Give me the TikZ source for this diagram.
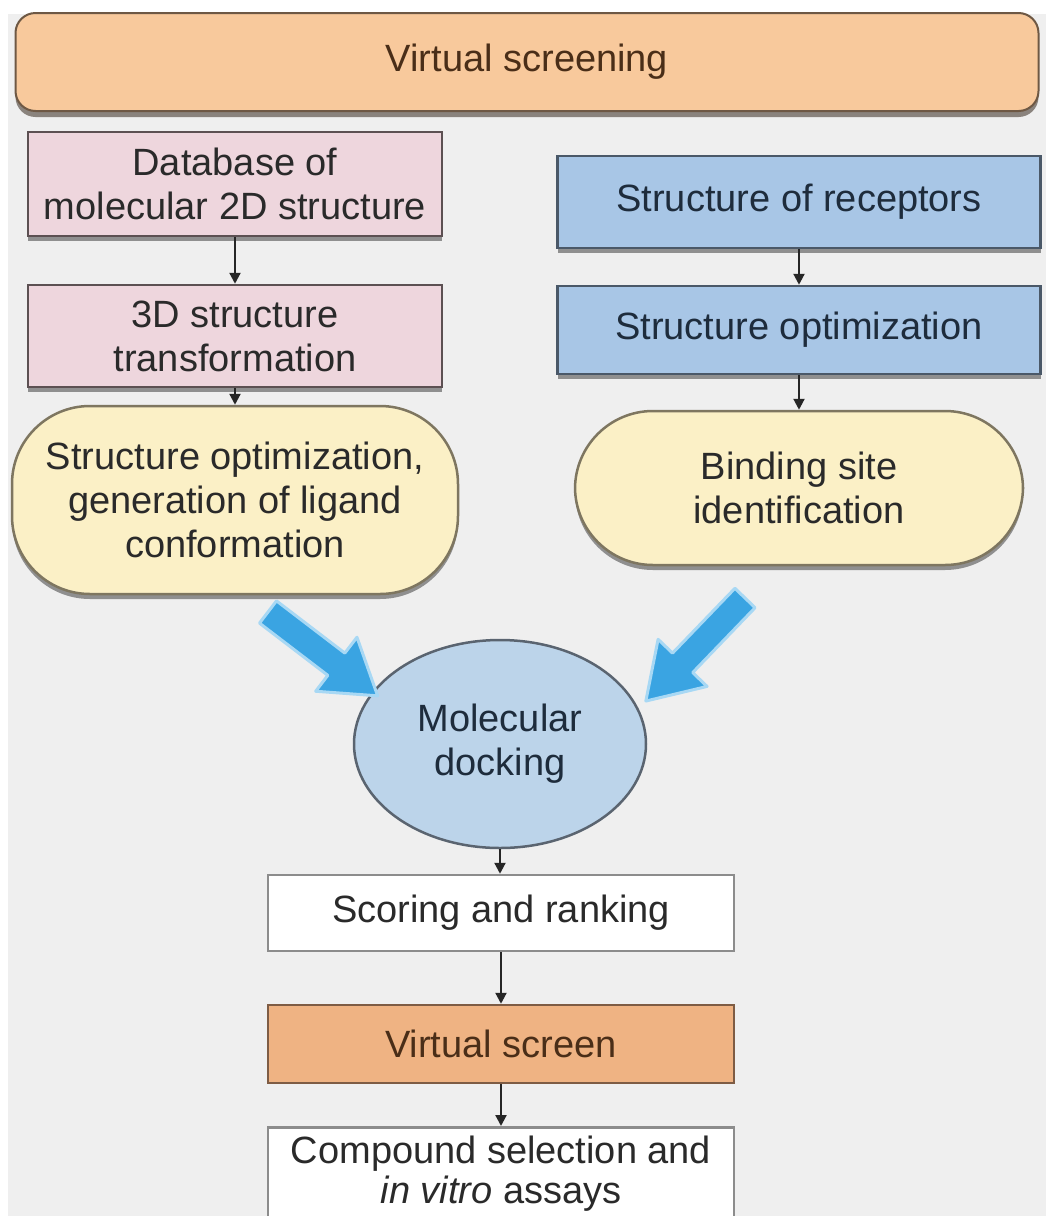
\documentclass[tikz,border=0pt]{standalone}
\usepackage{fontspec}
\setmainfont{Liberation Sans}
\usetikzlibrary{shapes.geometric,shadows,arrows.meta}

\definecolor{pagegray}{HTML}{EFEFEF}
\definecolor{peach}{HTML}{F8C99C}
\definecolor{peachline}{HTML}{6E5844}
\definecolor{pinkfill}{HTML}{EED6DD}
\definecolor{pinkline}{HTML}{5C5052}
\definecolor{bluefill}{HTML}{A8C6E6}
\definecolor{blueline}{HTML}{4A5868}
\definecolor{creamfill}{HTML}{FBF0C6}
\definecolor{creamline}{HTML}{7E7660}
\definecolor{dockfill}{HTML}{BCD4EA}
\definecolor{dockline}{HTML}{5A6470}
\definecolor{orangefill}{HTML}{EFB383}
\definecolor{orangeline}{HTML}{7E5C44}
\definecolor{plainline}{HTML}{8C8C8C}
\definecolor{textdark}{HTML}{2A2A2A}
\definecolor{textbrown}{HTML}{4A2E18}
\definecolor{textnavy}{HTML}{1E2C3C}
\definecolor{arrowblue}{HTML}{3AA4E2}
\definecolor{arrowglow}{HTML}{A8D8F4}

\tikzset{
  txt/.style={font=\fontsize{38}{44}\selectfont, align=center, text=textdark, inner sep=0pt},
  shade/.style={drop shadow={shadow xshift=0pt, shadow yshift=-5pt, opacity=.4, fill=black}},
  pinkbox/.style={txt, rectangle, draw=pinkline, fill=pinkfill, line width=2.5pt, shade},
  bluebox/.style={txt, rectangle, draw=blueline, fill=bluefill, line width=2.5pt, shade, text=textnavy},
  creambox/.style={txt, rectangle, rounded corners=78pt, draw=creamline, fill=creamfill, line width=2.5pt, shade},
  plainbox/.style={txt, rectangle, draw=plainline, fill=white, line width=2.5pt},
  flow/.style={line width=2.2pt, draw=black!85, -{Triangle[length=11pt,width=11pt]}},
  bigarrow/.style={fill=arrowblue, draw=arrowglow, line width=3pt, line join=round}
}

\begin{document}
\begin{tikzpicture}[x=1pt, y=-1pt]
  \useasboundingbox (0,0) rectangle (1054,1216);
  \fill[white] (0,0) rectangle (1054,1216);
  \fill[pagegray] (8,14) rectangle (1046,1216);

  % title bar
  \node[txt, rectangle, rounded corners=20pt, draw=peachline, fill=peach, line width=2pt,
        drop shadow={shadow xshift=0pt, shadow yshift=-6pt, opacity=.5, fill=black!80!brown},
        minimum width=1023pt, minimum height=98pt, text=textbrown] (title) at (527,62) {Virtual screening};

  % ligand branch
  \node[pinkbox, minimum width=414pt, minimum height=104pt] (db) at (235,184) {Database of\\molecular 2D structure};
  \node[pinkbox, minimum width=414pt, minimum height=102pt] (tdt) at (235,336) {3D structure\\transformation};
  \node[creambox, minimum width=446pt, minimum height=188pt] (lig) at (235,500) {Structure optimization,\\generation of ligand\\conformation};

  % receptor branch
  \node[bluebox, minimum width=483pt, minimum height=92pt] (rec) at (799,202) {Structure of receptors};
  \node[bluebox, minimum width=483pt, minimum height=88pt] (ropt) at (799,330) {Structure optimization};
  \node[creambox, minimum width=448pt, minimum height=154pt] (site) at (799,488) {Binding site\\identification};

  % docking and downstream steps
  \node[txt, ellipse, draw=dockline, fill=dockfill, line width=2.5pt, text=textnavy,
        minimum width=292pt, minimum height=208pt] (dock) at (500,744) {Molecular\\docking};
  \node[plainbox, minimum width=466pt, minimum height=76pt] (score) at (501,913) {Scoring and ranking};
  \node[txt, rectangle, draw=orangeline, fill=orangefill, line width=2.5pt, text=textbrown,
        minimum width=466pt, minimum height=78pt] (vs) at (501,1044) {Virtual screen};
  \node[plainbox, minimum width=466pt, minimum height=110pt, anchor=north] (sel) at (501,1126) {};
  \node[txt, font=\fontsize{38}{40}\selectfont] (seltext) at (501,1174) {Compound selection and\\\textit{in vitro} assays};

  % small flow arrows
  \draw[flow] (db.south) -- (tdt.north);
  \draw[flow] (tdt.south) -- (lig.north);
  \draw[flow] (rec.south) -- (ropt.north);
  \draw[flow] (ropt.south) -- (site.north);
  \draw[flow] (dock.south) -- (dock.south |- score.north);
  \draw[flow] (score.south) -- (vs.north);
  \draw[flow] (vs.south) -- (sel.north);

  % broad arrows into docking
  \coordinate (ltail) at (268,612);
  \coordinate (rtail) at (745,598);
  \begin{scope}[shift={(ltail)}, rotate=-37.4]
    \path[bigarrow] (0,14) -- (86,14) -- (86,34) -- (138,0) -- (86,-34) -- (86,-14) -- (0,-14) -- cycle;
  \end{scope}
  \begin{scope}[shift={(rtail)}, rotate=-133.9]
    \path[bigarrow] (0,14) -- (90,14) -- (90,34) -- (143,0) -- (90,-34) -- (90,-14) -- (0,-14) -- cycle;
  \end{scope}
\end{tikzpicture}
\end{document}
